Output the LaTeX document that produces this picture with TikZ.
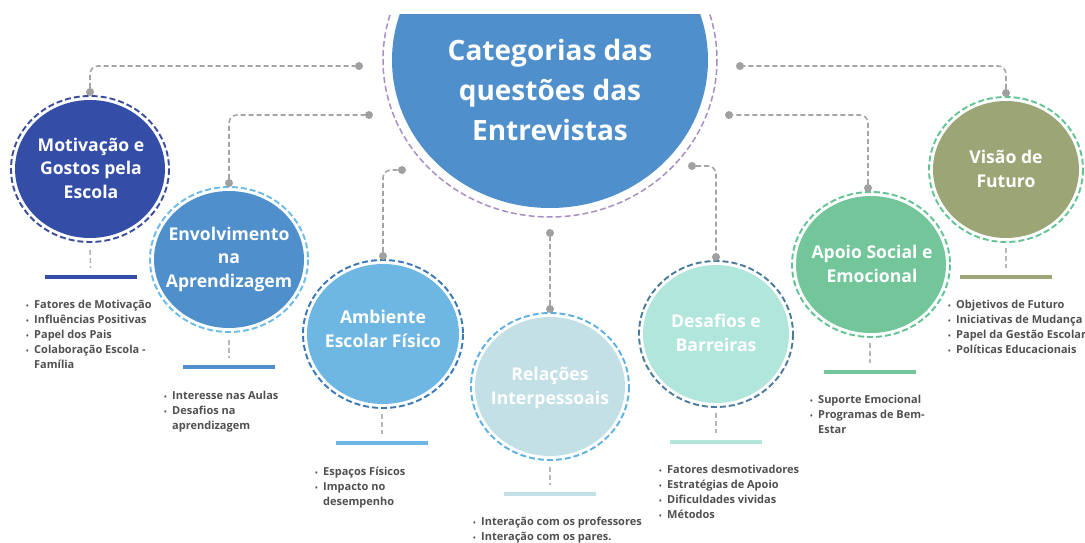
\documentclass[tikz,border=0pt]{standalone}
\usepackage{fontspec}
\setmainfont{Open Sans}
\usepackage{tikz}

\definecolor{cenc}{HTML}{4F8FCB}
\definecolor{cenring}{HTML}{A78EC3}
\definecolor{motc}{HTML}{344EA8}
\definecolor{motring}{HTML}{3A4C9E}
\definecolor{envc}{HTML}{4F8FCB}
\definecolor{envring}{HTML}{6CBBE8}
\definecolor{ambc}{HTML}{6FB7E3}
\definecolor{ambring}{HTML}{3A78BB}
\definecolor{relc}{HTML}{C2E0E5}
\definecolor{relring}{HTML}{5CB0E2}
\definecolor{desc}{HTML}{B1E6DC}
\definecolor{desring}{HTML}{4A7B9C}
\definecolor{apoc}{HTML}{72C69A}
\definecolor{aporing}{HTML}{62C493}
\definecolor{visc}{HTML}{9CA576}
\definecolor{visring}{HTML}{62C493}
\definecolor{linkgrey}{HTML}{A5A5A5}
\definecolor{dotgrey}{HTML}{A0A0A0}
\definecolor{itemgrey}{HTML}{505050}

\tikzset{
  dot/.style={circle, fill=dotgrey, inner sep=0pt, minimum size=8pt},
  link/.style={draw=linkgrey, line width=1.6pt, dash pattern=on 5pt off 3pt, rounded corners=8pt},
  stub/.style={draw=linkgrey!80, line width=1.6pt, dash pattern=on 5pt off 3pt, shorten >=7pt},
  ring/.style={line width=1.9pt, dash pattern=on 6pt off 3pt},
  cattext/.style={text=white, align=center, font=\fontsize{17.6}{23.5}\selectfont\bfseries},
  bar/.style={rectangle, inner sep=0pt, minimum width=92pt, minimum height=3.5pt},
  items/.style={text=itemgrey, align=left, inner sep=0pt, anchor=north west, font=\fontsize{11}{15}\selectfont\bfseries}
}
\newcommand{\bul}{\makebox[8pt][l]{\raisebox{0.5pt}{\scriptsize\textbullet}}}
\newcommand{\cnt}{\hspace*{8pt}}

\begin{document}
\begin{tikzpicture}[x=1pt, y=-1pt]
		\useasboundingbox (0,0) rectangle (1085,543);
		
		% centre
		\begin{scope}
			\clip (0,15) rectangle (1085,543);
			\fill[cenc] (550,60) ellipse [x radius=158, y radius=148];
			\draw[ring, draw=cenring, line width=1.5pt] (550,60) ellipse [x radius=167, y radius=157];
		\end{scope}
		\node[cattext, font=\fontsize{28}{40}\selectfont\bfseries] (cen) at (550,90) {Categorias das\\questões das\\Entrevistas};
		
		\node[dot] (c1) at (359,66) {};
		\node[dot] (c2) at (369,115) {};
		\node[dot] (c3) at (402,170) {};
		\node[dot] (c4) at (550,233) {};
		\node[dot] (c5) at (692,166) {};
		\node[dot] (c6) at (729,115) {};
		\node[dot] (c7) at (740,66) {};
		
		% Motivacao
		\fill[motc] (90,169) ellipse [x radius=75, y radius=69];
		\draw[ring, draw=motring] (90,169) ellipse [x radius=79, y radius=73];
		\node[cattext] (mot) at (91,168) {Motivação e\\Gostos pela\\Escola};
		\node[dot] (motdot) at (90,92) {};
		\coordinate (motbot) at (90,250);
		\node[bar, fill=motc] (motbar) at (91,277) {};
		\node[items] (motlist) at (26,300) {\bul Fatores de Motivação\\\bul Influências Positivas\\\bul Papel dos Pais\\\bul Colaboração Escola -\\\cnt Família};
		
		% Envolvimento
		\fill[envc] (229,259.5) ellipse [x radius=75, y radius=68.5];
		\draw[ring, draw=envring] (229,259.5) ellipse [x radius=79, y radius=72.5];
		\node[cattext] (env) at (229,259) {Envolvimento\\na\\Aprendizagem};
		\node[dot] (envdot) at (229,183) {};
		\coordinate (envbot) at (229,340);
		\node[bar, fill=envc] (envbar) at (229,367) {};
		\node[items] (envlist) at (164,391) {\bul Interesse nas Aulas\\\bul Desafios na\\\cnt aprendizagem};
		
		% Ambiente
		\fill[ambc] (383,334) ellipse [x radius=76, y radius=70];
		\draw[ring, draw=ambring] (383,334) ellipse [x radius=80, y radius=74];
		\node[cattext] (amb) at (383,329) {Ambiente\\Escolar Físico};
		\node[dot] (ambdot) at (383,256) {};
		\coordinate (ambbot) at (382,414);
		\node[bar, fill=ambc] (ambbar) at (382,443) {};
		\node[items] (amblist) at (315,467) {\bul Espaços Físicos\\\bul Impacto no\\\cnt desempenho};
		
		% Relacoes
		\fill[relc] (550,386.5) ellipse [x radius=75, y radius=69.5];
		\draw[ring, draw=relring] (550,386.5) ellipse [x radius=79, y radius=73.5];
		\node[cattext] (rel) at (550,388) {Relações\\Interpessoais};
		\node[dot] (reldot) at (550,309) {};
		\coordinate (relbot) at (550,467);
		\node[bar, fill=relc] (relbar) at (550,494) {};
		\node[items] (rellist) at (473,517) {\bul Interação com os professores\\\bul Interação com os pares.};
		
		% Desafios
		\fill[desc] (716,334) ellipse [x radius=73, y radius=69];
		\draw[ring, draw=desring] (716,334) ellipse [x radius=77, y radius=73];
		\node[cattext] (des) at (716,333) {Desafios e\\Barreiras};
		\node[dot] (desdot) at (716,257) {};
		\coordinate (desbot) at (716,413);
		\node[bar, fill=desc] (desbar) at (716,442) {};
		\node[items] (deslist) at (659,465) {\bul Fatores desmotivadores\\\bul Estratégias de Apoio\\\bul Dificuldades vividas\\\bul Métodos};
		
		% Apoio
		\fill[apoc] (871,264.5) ellipse [x radius=75, y radius=68.5];
		\draw[ring, draw=aporing] (871,264.5) ellipse [x radius=79, y radius=72.5];
		\node[cattext] (apo) at (872,264) {Apoio Social e\\Emocional};
		\node[dot] (apodot) at (868,188) {};
		\coordinate (apobot) at (870,343);
		\node[bar, fill=apoc] (apobar) at (870,372) {};
		\node[items] (apolist) at (810,395) {\bul Suporte Emocional\\\bul Programas de Bem-\\\cnt Estar};
		
		% Visao
		\fill[visc] (1006,169.5) ellipse [x radius=73, y radius=68.5];
		\draw[ring, draw=visring] (1006,169.5) ellipse [x radius=77, y radius=72.5];
		\node[cattext] (vis) at (1006,169) {Visão de\\Futuro};
		\node[dot] (visdot) at (1006,93) {};
		\coordinate (visbot) at (1006,248);
		\node[bar, fill=visc] (visbar) at (1006,277) {};
		\node[items] (vislist) at (948,300) {\bul Objetivos de Futuro\\\bul Iniciativas de Mudança\\\bul Papel da Gestão Escolar\\\bul Políticas Educacionais};
		
		% connectors
		\draw[link] (motdot) |- (c1);
		\draw[link] (envdot) |- (c2);
		\draw[link] (ambdot) |- (c3);
		\draw[link] (reldot) -- (c4);
		\draw[link] (c5) -| (desdot);
		\draw[link] (apodot) |- (c6);
		\draw[link] (visdot) |- (c7);
		
		\draw[stub] (motbot) -- (motbar);
		\draw[stub] (envbot) -- (envbar);
		\draw[stub] (ambbot) -- (ambbar);
		\draw[stub] (relbot) -- (relbar);
		\draw[stub] (desbot) -- (desbar);
		\draw[stub] (apobot) -- (apobar);
		\draw[stub] (visbot) -- (visbar);
	\end{tikzpicture}
\end{document}
